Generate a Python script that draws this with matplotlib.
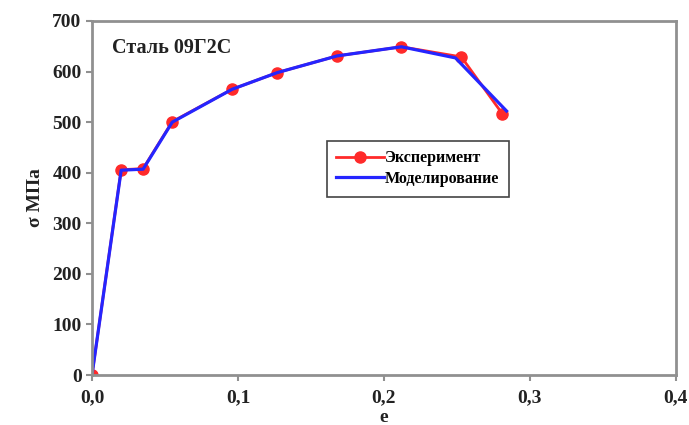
import matplotlib
matplotlib.use("Agg")
import matplotlib.pyplot as plt
from matplotlib.ticker import FuncFormatter

# experiment points
exp_e = [0.0, 0.020, 0.035, 0.055, 0.096, 0.127, 0.168, 0.212, 0.253, 0.281]
exp_s = [0, 406, 408, 501, 565, 598, 631, 649, 629, 517]
# model curve
mod_e = [0.0, 0.020, 0.035, 0.055, 0.096, 0.127, 0.168, 0.212, 0.249, 0.284]
mod_s = [0, 405, 407, 500, 565, 598, 631, 649, 627, 522]

plt.rcParams['font.family'] = ['Liberation Serif', 'DejaVu Serif']
plt.rcParams['font.weight'] = 'bold'

fig = plt.figure(figsize=(6.89, 4.25), dpi=100)
ax = fig.add_axes([0.1335, 0.1176, 0.8475, 0.833])

ax.plot(exp_e, exp_s, color='#ff2a2a', lw=2, marker='o', ms=8, label='Эксперимент')
ax.plot(mod_e, mod_s, color='#2525ff', lw=2.3, label='Моделирование')

ax.set_xlim(0, 0.4)
ax.set_ylim(0, 700)
ax.set_xticks([0, 0.1, 0.2, 0.3, 0.4])
ax.set_yticks(range(0, 701, 100))
ax.xaxis.set_major_formatter(FuncFormatter(lambda v, p: f"{v:.1f}".replace('.', ',')))
for s in ax.spines.values():
    s.set_color('#909090')
    s.set_linewidth(2)
ax.tick_params(axis='both', colors='#909090', labelcolor='#222222', labelsize=14, length=4, width=1.5)
ax.tick_params(axis='x', pad=6)
for lab in ax.get_xticklabels() + ax.get_yticklabels():
    lab.set_fontweight('bold')

ax.set_xlabel('e', fontsize=14, fontweight='bold', color='#222222', labelpad=2)
ax.set_ylabel('σ МПа', fontsize=14, fontweight='bold', color='#222222', labelpad=6)

ax.text(0.035, 0.925, 'Сталь 09Г2С', transform=ax.transAxes, fontsize=14.5,
        fontweight='bold', color='#222222', va='center')

leg = ax.legend(loc='upper left', bbox_to_anchor=(0.402, 0.662), fancybox=False,
                framealpha=1, edgecolor='#444444', fontsize=11.5, handlelength=3.0,
                handletextpad=0.05, borderpad=0.6, labelspacing=0.3, borderaxespad=0)
leg.get_frame().set_linewidth(1.2)

fig.savefig('out.png', dpi=100)
